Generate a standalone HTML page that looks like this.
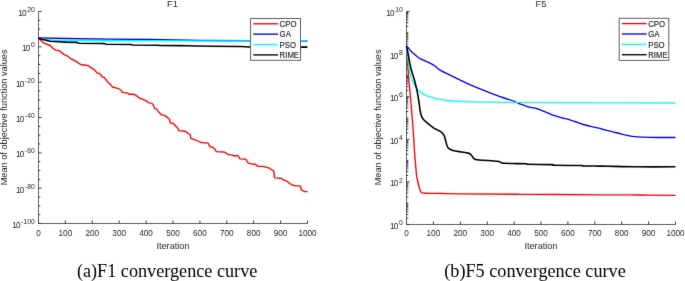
<!DOCTYPE html>
<html><head><meta charset="utf-8"><title>Convergence curves</title>
<style>html,body{margin:0;padding:0;background:#fff;width:685px;height:281px;overflow:hidden}svg{display:block}</style>
</head><body>
<svg width="685" height="281" viewBox="0 0 685 281" font-family="'Liberation Sans', sans-serif" fill="#262626">
<defs><filter id="bl" x="0" y="0" width="685" height="281" filterUnits="userSpaceOnUse" color-interpolation-filters="sRGB"><feConvolveMatrix order="3" kernelMatrix="0.00717 0.08466 0.00717 0.08466 1.00000 0.08466 0.00717 0.08466 0.00717" edgeMode="duplicate"/></filter></defs>
<rect width="685" height="281" fill="#fff"/>
<g filter="url(#bl)">
<text transform="translate(172.5,7.0) scale(0.96,1)" text-anchor="middle" font-size="9.7">F1</text>
<path d="M38.5 11.5V223.5H307.5" fill="none" stroke="#606060" stroke-width="1"/>
<path d="M38.5 223.5v-3M65.4 223.5v-3M92.3 223.5v-3M119.2 223.5v-3M146.1 223.5v-3M173 223.5v-3M199.9 223.5v-3M226.8 223.5v-3M253.7 223.5v-3M280.6 223.5v-3M307.5 223.5v-3M38.5 223.5h3M38.5 188.17h3M38.5 152.83h3M38.5 117.5h3M38.5 82.17h3M38.5 46.83h3M38.5 11.5h3M38.5 214.67h1.8M38.5 205.83h1.8M38.5 197h1.8M38.5 179.33h1.8M38.5 170.5h1.8M38.5 161.67h1.8M38.5 144h1.8M38.5 135.17h1.8M38.5 126.33h1.8M38.5 108.67h1.8M38.5 99.83h1.8M38.5 91h1.8M38.5 73.33h1.8M38.5 64.5h1.8M38.5 55.67h1.8M38.5 38h1.8M38.5 29.17h1.8M38.5 20.33h1.8" fill="none" stroke="#3a3a3a" stroke-width="1"/>
<text x="38.5" y="236.3" text-anchor="middle" font-size="8.2">0</text>
<text x="65.4" y="236.3" text-anchor="middle" font-size="8.2">100</text>
<text x="92.3" y="236.3" text-anchor="middle" font-size="8.2">200</text>
<text x="119.2" y="236.3" text-anchor="middle" font-size="8.2">300</text>
<text x="146.1" y="236.3" text-anchor="middle" font-size="8.2">400</text>
<text x="173" y="236.3" text-anchor="middle" font-size="8.2">500</text>
<text x="199.9" y="236.3" text-anchor="middle" font-size="8.2">600</text>
<text x="226.8" y="236.3" text-anchor="middle" font-size="8.2">700</text>
<text x="253.7" y="236.3" text-anchor="middle" font-size="8.2">800</text>
<text x="280.6" y="236.3" text-anchor="middle" font-size="8.2">900</text>
<text x="307.5" y="236.3" text-anchor="middle" font-size="8.2">1000</text>
<text x="34.8" y="228" text-anchor="end" font-size="8.2"><tspan letter-spacing="-0.8">1</tspan>0<tspan font-size="6.8" dy="-3.9" dx="0.7">-100</tspan></text>
<text x="34.8" y="192.67" text-anchor="end" font-size="8.2"><tspan letter-spacing="-0.8">1</tspan>0<tspan font-size="6.8" dy="-3.9" dx="0.7">-80</tspan></text>
<text x="34.8" y="157.33" text-anchor="end" font-size="8.2"><tspan letter-spacing="-0.8">1</tspan>0<tspan font-size="6.8" dy="-3.9" dx="0.7">-60</tspan></text>
<text x="34.8" y="122" text-anchor="end" font-size="8.2"><tspan letter-spacing="-0.8">1</tspan>0<tspan font-size="6.8" dy="-3.9" dx="0.7">-40</tspan></text>
<text x="34.8" y="86.67" text-anchor="end" font-size="8.2"><tspan letter-spacing="-0.8">1</tspan>0<tspan font-size="6.8" dy="-3.9" dx="0.7">-20</tspan></text>
<text x="34.8" y="51.33" text-anchor="end" font-size="8.2"><tspan letter-spacing="-0.8">1</tspan>0<tspan font-size="6.8" dy="-3.9" dx="0.7">0</tspan></text>
<text x="34.8" y="16" text-anchor="end" font-size="8.2"><tspan letter-spacing="-0.8">1</tspan>0<tspan font-size="6.8" dy="-3.9" dx="0.7">20</tspan></text>
<text x="173" y="248.6" text-anchor="middle" font-size="9.2">Iteration</text>
<text transform="translate(7,117.4) rotate(-90)" text-anchor="middle" font-size="9.2">Mean of objective function values</text>
<path d="M38.5 38.2 L44.5 43.4 L50.1 45.5 L53.8 49.1 L55.9 50.2 L58.8 50.5 L61.6 52.6 L64.5 54.8 L67.3 55.9 L70.2 58.3 L76 61.4 L78.8 63.3 L81.7 65 L84.5 65 L88.1 65.7 L90.2 67.1 L93.1 68.8 L95.9 71.4 L97.4 73.2 L99.5 73.5 L100.9 74.9 L101.6 76.6 L103.8 77.3 L105.9 79.5 L108 82.3 L110.9 84.9 L112.3 87 L116 87.8 L118.8 88.8 L121 90.2 L122.4 92.4 L126 92.9 L127.6 93.2 L129 94.2 L133.8 94.2 L136.6 95.9 L139.5 98.1 L142.3 99.2 L145.9 100.6 L148.7 102.8 L151.6 103.1 L153.3 104.9 L154.7 108.5 L156 108.6 L158.8 112.1 L161.7 114.9 L164.5 115.4 L167.4 117.4 L169.5 119.2 L170.2 122.8 L173.1 123.5 L175.2 125.6 L177.4 127.8 L178.8 130.6 L183 131 L185.9 131.6 L188 133.5 L190.2 134.4 L190.9 138.4 L194.4 139.6 L197.8 141 L200.7 142.4 L204.2 142.8 L208.2 143.2 L209.9 146.6 L212.8 147.3 L214.9 149.2 L216.3 151.6 L219.9 151.8 L224.2 152 L226.3 153.2 L228.4 154.7 L232.3 155.2 L234.4 156 L238 155.7 L240.1 158.8 L243.7 159.2 L246.2 159.5 L247.9 162.8 L251.5 163.8 L255.8 164.5 L257.9 166.4 L263.6 166.4 L265.7 167.1 L268.8 167.8 L272.4 170.2 L273.8 171.1 L274.5 177.8 L278.1 178.1 L281.7 178.5 L283.8 180.2 L287.4 181.4 L289.5 183.5 L292.2 184.8 L294.9 185.9 L298.9 185.9 L300.7 186.4 L301.4 190.1 L303.3 191 L305.1 191.6 L307.5 191.7" fill="none" stroke="#ff0000" stroke-width="1.35" stroke-linejoin="round" stroke-linecap="butt"/>
<path d="M38.5 37.9 L66 38.5 L110 39.2 L150 39.5 L175 40 L200 40.5 L307.5 41" fill="none" stroke="#0000ff" stroke-width="1.35" stroke-linejoin="round" stroke-linecap="butt"/>
<path d="M38.5 38.4 L45 39.3 L52 40.1 L67 40.6 L110 40.7 L200 40.8 L307.5 40.9" fill="none" stroke="#00ffff" stroke-width="1.35" stroke-linejoin="round" stroke-linecap="butt"/>
<path d="M38.5 38.4 L45 40 L50.1 41.2 L66 42.1 L77 42.4 L78.5 43.2 L100 43.5 L104.5 43.6 L106 44.3 L131 44.5 L132.5 45 L158 45.2 L159.5 45.5 L180 45.6 L186.7 45.8 L210 46.2 L240 46.5 L250 47 L307.5 47.1" fill="none" stroke="#000000" stroke-width="1.6" stroke-linejoin="round" stroke-linecap="butt"/>
<rect x="250.6" y="18.5" width="49.9" height="41.8" fill="#fff" stroke="#606060" stroke-width="1"/>
<path d="M253.3 23.8H278" stroke="#ff0000" stroke-width="1.35"/>
<text transform="translate(279.6,27) scale(0.95,1)" font-size="8.2" stroke="#262626" stroke-width="0.15">CPO</text>
<path d="M253.3 34.17H278" stroke="#0000ff" stroke-width="1.35"/>
<text transform="translate(279.6,37.37) scale(0.95,1)" font-size="8.2" stroke="#262626" stroke-width="0.15">GA</text>
<path d="M253.3 44.54H278" stroke="#00ffff" stroke-width="1.35"/>
<text transform="translate(279.6,47.74) scale(0.95,1)" font-size="8.2" stroke="#262626" stroke-width="0.15">PSO</text>
<path d="M253.3 54.91H278" stroke="#000000" stroke-width="1.35"/>
<text transform="translate(279.6,58.11) scale(0.95,1)" font-size="8.2" stroke="#262626" stroke-width="0.15">RIME</text>
<text transform="translate(541,7.0) scale(0.96,1)" text-anchor="middle" font-size="9.7">F5</text>
<path d="M406.5 11.5V224.5H675.5" fill="none" stroke="#606060" stroke-width="1"/>
<path d="M406.5 224.5v-3M433.4 224.5v-3M460.3 224.5v-3M487.2 224.5v-3M514.1 224.5v-3M541 224.5v-3M567.9 224.5v-3M594.8 224.5v-3M621.7 224.5v-3M648.6 224.5v-3M675.5 224.5v-3M406.5 224.5h3M406.5 181.9h3M406.5 139.3h3M406.5 96.7h3M406.5 54.1h3M406.5 11.5h3M406.5 218.09h1.8M406.5 214.34h1.8M406.5 211.68h1.8M406.5 209.61h1.8M406.5 207.93h1.8M406.5 206.5h1.8M406.5 205.26h1.8M406.5 204.17h1.8M406.5 203.2h1.8M406.5 196.79h1.8M406.5 193.04h1.8M406.5 190.38h1.8M406.5 188.31h1.8M406.5 186.63h1.8M406.5 185.2h1.8M406.5 183.96h1.8M406.5 182.87h1.8M406.5 175.49h1.8M406.5 171.74h1.8M406.5 169.08h1.8M406.5 167.01h1.8M406.5 165.33h1.8M406.5 163.9h1.8M406.5 162.66h1.8M406.5 161.57h1.8M406.5 160.6h1.8M406.5 154.19h1.8M406.5 150.44h1.8M406.5 147.78h1.8M406.5 145.71h1.8M406.5 144.03h1.8M406.5 142.6h1.8M406.5 141.36h1.8M406.5 140.27h1.8M406.5 132.89h1.8M406.5 129.14h1.8M406.5 126.48h1.8M406.5 124.41h1.8M406.5 122.73h1.8M406.5 121.3h1.8M406.5 120.06h1.8M406.5 118.97h1.8M406.5 118h1.8M406.5 111.59h1.8M406.5 107.84h1.8M406.5 105.18h1.8M406.5 103.11h1.8M406.5 101.43h1.8M406.5 100h1.8M406.5 98.76h1.8M406.5 97.67h1.8M406.5 90.29h1.8M406.5 86.54h1.8M406.5 83.88h1.8M406.5 81.81h1.8M406.5 80.13h1.8M406.5 78.7h1.8M406.5 77.46h1.8M406.5 76.37h1.8M406.5 75.4h1.8M406.5 68.99h1.8M406.5 65.24h1.8M406.5 62.58h1.8M406.5 60.51h1.8M406.5 58.83h1.8M406.5 57.4h1.8M406.5 56.16h1.8M406.5 55.07h1.8M406.5 47.69h1.8M406.5 43.94h1.8M406.5 41.28h1.8M406.5 39.21h1.8M406.5 37.53h1.8M406.5 36.1h1.8M406.5 34.86h1.8M406.5 33.77h1.8M406.5 32.8h1.8M406.5 26.39h1.8M406.5 22.64h1.8M406.5 19.98h1.8M406.5 17.91h1.8M406.5 16.23h1.8M406.5 14.8h1.8M406.5 13.56h1.8M406.5 12.47h1.8" fill="none" stroke="#3a3a3a" stroke-width="1"/>
<text x="406.5" y="236.3" text-anchor="middle" font-size="8.2">0</text>
<text x="433.4" y="236.3" text-anchor="middle" font-size="8.2">100</text>
<text x="460.3" y="236.3" text-anchor="middle" font-size="8.2">200</text>
<text x="487.2" y="236.3" text-anchor="middle" font-size="8.2">300</text>
<text x="514.1" y="236.3" text-anchor="middle" font-size="8.2">400</text>
<text x="541" y="236.3" text-anchor="middle" font-size="8.2">500</text>
<text x="567.9" y="236.3" text-anchor="middle" font-size="8.2">600</text>
<text x="594.8" y="236.3" text-anchor="middle" font-size="8.2">700</text>
<text x="621.7" y="236.3" text-anchor="middle" font-size="8.2">800</text>
<text x="648.6" y="236.3" text-anchor="middle" font-size="8.2">900</text>
<text x="675.5" y="236.3" text-anchor="middle" font-size="8.2">1000</text>
<text x="402.8" y="229" text-anchor="end" font-size="8.2"><tspan letter-spacing="-0.8">1</tspan>0<tspan font-size="6.8" dy="-3.9" dx="0.7">0</tspan></text>
<text x="402.8" y="186.4" text-anchor="end" font-size="8.2"><tspan letter-spacing="-0.8">1</tspan>0<tspan font-size="6.8" dy="-3.9" dx="0.7">2</tspan></text>
<text x="402.8" y="143.8" text-anchor="end" font-size="8.2"><tspan letter-spacing="-0.8">1</tspan>0<tspan font-size="6.8" dy="-3.9" dx="0.7">4</tspan></text>
<text x="402.8" y="101.2" text-anchor="end" font-size="8.2"><tspan letter-spacing="-0.8">1</tspan>0<tspan font-size="6.8" dy="-3.9" dx="0.7">6</tspan></text>
<text x="402.8" y="58.6" text-anchor="end" font-size="8.2"><tspan letter-spacing="-0.8">1</tspan>0<tspan font-size="6.8" dy="-3.9" dx="0.7">8</tspan></text>
<text x="402.8" y="16" text-anchor="end" font-size="8.2"><tspan letter-spacing="-0.8">1</tspan>0<tspan font-size="6.8" dy="-3.9" dx="0.7">10</tspan></text>
<text x="541" y="248.6" text-anchor="middle" font-size="9.2">Iteration</text>
<text transform="translate(381.1,117.4) rotate(-90)" text-anchor="middle" font-size="9.2">Mean of objective function values</text>
<path d="M406.5 46.2C406.63 48.17 407 53.57 407.3 58C407.6 62.43 408.05 69.13 408.3 72.8C408.55 76.47 408.45 76.13 408.8 80C409.15 83.87 409.95 91.18 410.4 96C410.85 100.82 411.1 104.07 411.5 108.9C411.9 113.73 412.42 119.97 412.8 125C413.18 130.03 413.53 134.93 413.8 139.1C414.07 143.27 414.13 146.08 414.4 150C414.67 153.92 415.02 158.22 415.4 162.6C415.78 166.98 416.3 173.15 416.7 176.3C417.1 179.45 417.42 179.85 417.8 181.5C418.18 183.15 418.58 184.67 419 186.2C419.42 187.73 419.78 189.58 420.3 190.7C420.82 191.82 420.77 192.47 422.1 192.9C423.43 193.33 425.03 193.2 428.3 193.3C431.57 193.4 436.42 193.42 441.7 193.5C446.98 193.58 446.95 193.67 460 193.8C473.05 193.93 496.67 194.13 520 194.3C543.33 194.47 580 194.68 600 194.8C620 194.92 627.42 194.92 640 195C652.58 195.08 669.58 195.25 675.5 195.3" fill="none" stroke="#ff0000" stroke-width="1.35" stroke-linejoin="round" stroke-linecap="butt"/>
<path d="M406.5 45.7C407.17 46.53 408.88 49.03 410.5 50.7C412.12 52.37 414.53 54.35 416.2 55.7C417.87 57.05 418.83 57.85 420.5 58.8C422.17 59.75 424.3 60.5 426.2 61.4C428.1 62.3 430.23 63.27 431.9 64.2C433.57 65.13 434.85 66 436.2 67C437.55 68 437.58 68.8 440 70.2C442.42 71.6 447.15 73.65 450.7 75.4C454.25 77.15 457.75 79 461.3 80.7C464.85 82.4 468.43 84.07 472 85.6C475.57 87.13 479.15 88.48 482.7 89.9C486.25 91.32 489.75 92.75 493.3 94.1C496.85 95.45 500.38 96.75 504 98C507.62 99.25 512.22 100.57 515 101.6C517.78 102.63 518.33 103.28 520.7 104.2C523.07 105.12 526.58 106.38 529.2 107.1C531.82 107.82 534.02 107.83 536.4 108.5C538.78 109.17 541.25 110.2 543.5 111.1C545.75 112 548.25 113.2 549.9 113.9C551.55 114.6 551.38 114.65 553.4 115.3C555.42 115.95 559.38 117.08 562 117.8C564.62 118.52 566.73 118.9 569.1 119.6C571.47 120.3 573.83 121.18 576.2 122C578.57 122.82 580.68 123.72 583.3 124.5C585.92 125.28 589.12 126.05 591.9 126.7C594.68 127.35 598 127.9 600 128.4C602 128.9 601.77 129.13 603.9 129.7C606.03 130.27 609.83 131.07 612.8 131.8C615.77 132.53 618.43 133.35 621.7 134.1C624.97 134.85 628.85 135.78 632.4 136.3C635.95 136.82 638.85 137 643 137.2C647.15 137.4 651.88 137.45 657.3 137.5C662.72 137.55 672.47 137.5 675.5 137.5" fill="none" stroke="#0000ff" stroke-width="1.35" stroke-linejoin="round" stroke-linecap="butt"/>
<path d="M406.5 46.1C406.8 48.77 407.82 58.12 408.3 62.1C408.78 66.08 409.05 67.87 409.4 70C409.75 72.13 410.03 73.32 410.4 74.9C410.77 76.48 411.02 78.1 411.6 79.5C412.18 80.9 413.28 82.13 413.9 83.3C414.52 84.47 414.72 85.5 415.3 86.5C415.88 87.5 416.68 88.47 417.4 89.3C418.12 90.13 418.75 90.78 419.6 91.5C420.45 92.22 421.43 92.95 422.5 93.6C423.57 94.25 424.35 94.73 426 95.4C427.65 96.07 430.08 96.93 432.4 97.6C434.72 98.27 437.4 98.92 439.9 99.4C442.4 99.88 444.38 100.17 447.4 100.5C450.42 100.83 454.23 101.17 458 101.4C461.77 101.63 465.88 101.78 470 101.9C474.12 102.02 475.2 102.02 482.7 102.1C490.2 102.18 495.45 102.28 515 102.4C534.55 102.52 573.25 102.7 600 102.8C626.75 102.9 662.92 102.97 675.5 103" fill="none" stroke="#00ffff" stroke-width="1.35" stroke-linejoin="round" stroke-linecap="butt"/>
<path d="M406.5 46.1C406.83 47.75 407.85 52.62 408.5 56C409.15 59.38 409.75 63.48 410.4 66.4C411.05 69.32 411.73 71.23 412.4 73.5C413.07 75.77 413.67 77.32 414.4 80C415.13 82.68 416.12 86.43 416.8 89.6C417.48 92.77 418.05 96.27 418.5 99C418.95 101.73 419.18 103.83 419.5 106C419.82 108.17 420.05 110.25 420.4 112C420.75 113.75 421.08 115.25 421.6 116.5C422.12 117.75 422.77 118.62 423.5 119.5C424.23 120.38 424.97 120.9 426 121.8C427.03 122.7 428.47 123.9 429.7 124.9C430.93 125.9 432.15 126.97 433.4 127.8C434.65 128.63 436.05 129.3 437.2 129.9C438.35 130.5 439.33 130.75 440.3 131.4C441.27 132.05 442.32 132.98 443 133.8C443.68 134.62 443.97 135.18 444.4 136.3C444.83 137.42 445.15 138.88 445.6 140.5C446.05 142.12 446.62 144.72 447.1 146C447.58 147.28 447.93 147.63 448.5 148.2C449.07 148.77 449.38 148.93 450.5 149.4C451.62 149.87 453.35 150.57 455.2 151C457.05 151.43 459.47 151.65 461.6 152C463.73 152.35 466.52 152.73 468 153.1C469.48 153.47 469.8 153.67 470.5 154.2C471.2 154.73 471.68 155.62 472.2 156.3C472.72 156.98 473.05 157.78 473.6 158.3C474.15 158.82 474.6 159.12 475.5 159.4C476.4 159.68 477.77 159.85 479 160C480.23 160.15 480.82 160.17 482.9 160.3C484.98 160.43 489 160.65 491.5 160.8C494 160.95 496.48 161.02 497.9 161.2C499.32 161.38 499.38 161.63 500 161.9C500.62 162.17 500.88 162.57 501.6 162.8C502.32 163.03 501.9 163.17 504.3 163.3C506.7 163.43 512.35 163.52 516 163.6C519.65 163.68 524.1 163.68 526.2 163.8C528.3 163.92 524.27 164.17 528.6 164.3C532.93 164.43 547.85 164.43 552.2 164.6C556.55 164.77 549.93 165.15 554.7 165.3C559.47 165.45 576.05 165.4 580.8 165.5C585.55 165.6 580 165.8 583.2 165.9C586.4 166 595.97 166.05 600 166.1C604.03 166.15 601 166.08 607.4 166.2C613.8 166.32 627.05 166.7 638.4 166.8C649.75 166.9 669.32 166.8 675.5 166.8" fill="none" stroke="#000000" stroke-width="1.6" stroke-linejoin="round" stroke-linecap="butt"/>
<rect x="619.2" y="18.3" width="49.6" height="42.1" fill="#fff" stroke="#606060" stroke-width="1"/>
<path d="M621.9 23.6H646.6" stroke="#ff0000" stroke-width="1.35"/>
<text transform="translate(648.2,26.8) scale(0.95,1)" font-size="8.2" stroke="#262626" stroke-width="0.15">CPO</text>
<path d="M621.9 33.97H646.6" stroke="#0000ff" stroke-width="1.35"/>
<text transform="translate(648.2,37.17) scale(0.95,1)" font-size="8.2" stroke="#262626" stroke-width="0.15">GA</text>
<path d="M621.9 44.34H646.6" stroke="#00ffff" stroke-width="1.35"/>
<text transform="translate(648.2,47.54) scale(0.95,1)" font-size="8.2" stroke="#262626" stroke-width="0.15">PSO</text>
<path d="M621.9 54.71H646.6" stroke="#000000" stroke-width="1.35"/>
<text transform="translate(648.2,57.91) scale(0.95,1)" font-size="8.2" stroke="#262626" stroke-width="0.15">RIME</text>
<text x="76.9" y="276.7" font-family="'Liberation Serif', serif" font-size="18.2" fill="#000">(a)F1 convergence curve</text>
<text x="444.3" y="276.7" font-family="'Liberation Serif', serif" font-size="18.2" fill="#000">(b)F5 convergence curve</text>
</g>
</svg>
</body></html>
